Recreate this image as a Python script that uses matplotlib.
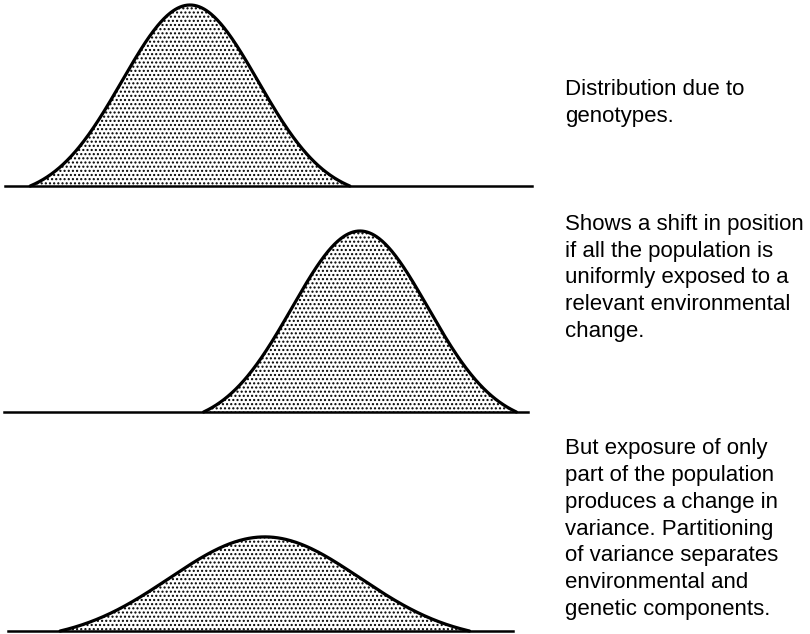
import matplotlib.pyplot as plt
import numpy as np

plt.rcParams['font.family'] = ['Liberation Sans', 'DejaVu Sans']
plt.rcParams['hatch.linewidth'] = 1.0

# trait scale: genotype distribution has mean 0, sd 1
means = [0.0, 2.5, 1.1]
sds = [1.0, 1.0, 1.4]
peaks = [1.0, 1.0, 0.52]
captions = [
    "Distribution due to\ngenotypes.",
    "Shows a shift in position\nif all the population is\nuniformly exposed to a\n"
    "relevant environmental\nchange.",
    "But exposure of only\npart of the population\nproduces a change in\n"
    "variance. Partitioning\nof variance separates\nenvironmental and\n"
    "genetic components.",
]

W, H = 810, 634
baseline_px = [186, 412, 631]          # baseline of each panel, px from top
line_ends = [(5, 532), (4, 528), (8, 513)]
text_last_px = [122, 337, 615]         # baseline of last caption line, px from top
px_per_unit = 68.0
x_mean0 = 190.0
panel_h = 181.0
k_feet = [2.35, 2.3, 2.15]              # curve meets the baseline at +-k sd

fig = plt.figure(figsize=(W / 100, H / 100), dpi=100)
xlim = (-x_mean0 / px_per_unit, (W - x_mean0) / px_per_unit)

for i in range(3):
    ax = fig.add_axes([0, (H - baseline_px[i]) / H, 1, panel_h / H])
    ax.set_xlim(*xlim)
    ax.set_ylim(0, 1)
    ax.axis('off')

    k = k_feet[i]
    x = np.linspace(means[i] - k * sds[i], means[i] + k * sds[i], 400)
    g = np.exp(-0.5 * ((x - means[i]) / sds[i]) ** 2)
    g_end = np.exp(-0.5 * k ** 2)
    y = peaks[i] * (g - g_end) / (1 - g_end)
    ax.fill_between(x, 0, y, facecolor='white', edgecolor='black',
                    hatch='....', linewidth=0)
    ax.plot(x, y, color='black', lw=2.3, solid_capstyle='round', clip_on=False)

    x0 = (line_ends[i][0] - x_mean0) / px_per_unit
    x1 = (line_ends[i][1] - x_mean0) / px_per_unit
    ax.plot([x0, x1], [0, 0], color='black', lw=1.8, clip_on=False)

    fig.text(565 / W, 1 - text_last_px[i] / H, captions[i], fontsize=16,
             va='baseline', ha='left', linespacing=1.36)

fig.savefig('out.png', dpi=100)
